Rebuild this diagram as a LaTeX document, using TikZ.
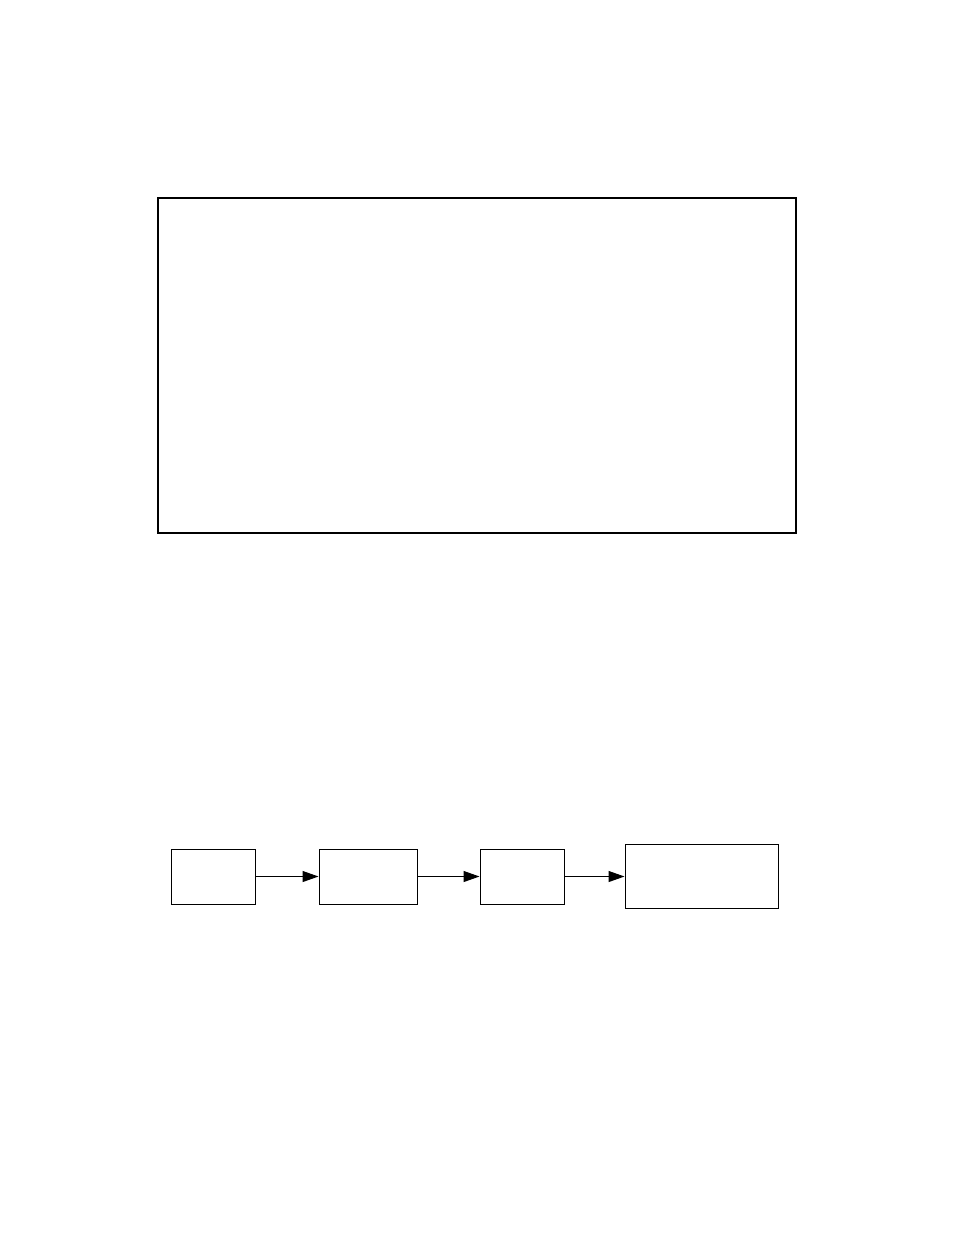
\documentclass[tikz,border=0pt]{standalone}
\usetikzlibrary{arrows.meta}
\begin{document}
\begin{tikzpicture}[x=1pt,y=-1pt,
  blockbox/.style={draw,line width=1pt,minimum height=0pt,inner sep=0pt},
  conn/.style={line width=1pt,-{Triangle[length=16pt,width=11pt]}}]
\useasboundingbox (0,0) rectangle (954,1235);
\node[draw,line width=1.6pt,minimum width=638pt,minimum height=335pt,inner sep=0pt] (frame) at (477,365.5) {};
\node[blockbox,minimum width=84pt,minimum height=55pt] (b1) at (213,876.5) {};
\node[blockbox,minimum width=98pt,minimum height=55pt] (b2) at (368,876.5) {};
\node[blockbox,minimum width=84pt,minimum height=55pt] (b3) at (522,876.5) {};
\node[blockbox,minimum width=153pt,minimum height=64pt] (b4) at (701.5,876.5) {};
\draw[conn] (b1.east) -- (b2.west);
\draw[conn] (b2.east) -- (b3.west);
\draw[conn] (b3.east) -- (b4.west);
\end{tikzpicture}
\end{document}
